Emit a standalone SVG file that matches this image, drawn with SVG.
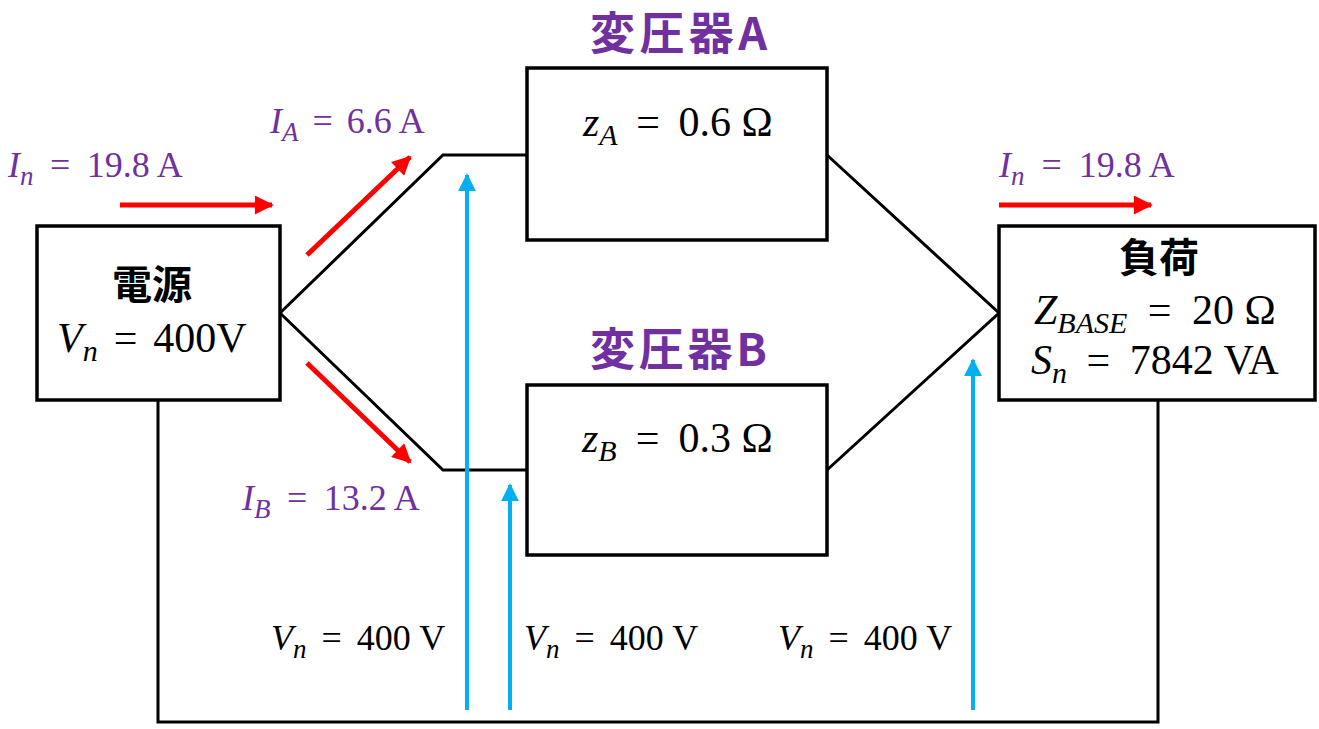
<svg xmlns="http://www.w3.org/2000/svg" width="1319" height="729" viewBox="0 0 1319 729">
<defs>
<marker id="ar" viewBox="0 0 10 10" refX="9" refY="5" markerWidth="4" markerHeight="3.8" orient="auto" markerUnits="strokeWidth"><path d="M0,0 L10,5 L0,10 z" fill="#FF0000"/></marker>
<marker id="ab" viewBox="0 0 10 10" refX="9" refY="5" markerWidth="4.5" markerHeight="4.5" orient="auto" markerUnits="strokeWidth"><path d="M0,0 L10,5 L0,10 z" fill="#00B0F0"/></marker>
</defs>
<style>
.box{fill:#fff;stroke:#000;stroke-width:3.5}
.wire{fill:none;stroke:#000;stroke-width:3}
.red{stroke:#FF0000;stroke-width:5;fill:none}
.blue{stroke:#00B0F0;stroke-width:4;fill:none}
.m{font-family:"Liberation Serif","DejaVu Serif",serif;font-size:36px}
.b{font-size:42px}
.p{fill:#7030A0}
.k{fill:#000}
.i{font-style:italic}
.s{font-size:27px;font-style:italic}
.sb{font-size:30px;font-style:italic}
.t{font-family:"Noto Sans CJK JP","Noto Sans",sans-serif;font-weight:bold;font-size:45px;fill:#7030A0}
.h{font-family:"Noto Sans CJK JP",sans-serif;font-weight:bold;font-size:40px;fill:#000}
</style>
<rect width="1319" height="729" fill="#fff"/>
<g id="connectors">
<path class="wire" d="M280,313 L443,155 L527,155"/>
<path class="wire" d="M280,313 L443,470 L527,470"/>
<path class="wire" d="M827,155 L999,313 L827,470"/>
<path class="wire" d="M158,400 L158,722 L1158,722 L1158,400"/>
<line class="red" x1="120" y1="205" x2="272" y2="205" marker-end="url(#ar)"/>
<line class="red" x1="999" y1="205" x2="1151" y2="205" marker-end="url(#ar)"/>
<line class="red" x1="307" y1="255" x2="410" y2="157" marker-end="url(#ar)"/>
<line class="red" x1="307" y1="363" x2="410" y2="462" marker-end="url(#ar)"/>
<line class="blue" x1="467" y1="710" x2="467" y2="175" marker-end="url(#ab)"/>
<line class="blue" x1="510" y1="710" x2="510" y2="485" marker-end="url(#ab)"/>
<line class="blue" x1="973" y1="710" x2="973" y2="360" marker-end="url(#ab)"/>
</g>
<g id="source">
<rect class="box" x="37" y="226" width="243" height="174"/>
<text class="h" x="152" y="299" text-anchor="middle">電源</text>
<text class="m b k" x="57" y="352"><tspan class="i">V</tspan><tspan class="sb" dy="9">n</tspan><tspan dy="-9" word-spacing="5.5"> = </tspan>400V</text>
</g>
<g id="transA">
<text class="t" x="590" y="50" textLength="177" lengthAdjust="spacing">変圧器A</text>
<rect class="box" x="527" y="68" width="300" height="172"/>
<text class="m b k" x="583" y="136"><tspan class="i">z</tspan><tspan class="sb" dy="9">A</tspan><tspan dy="-9" word-spacing="8"> = </tspan>0.6 Ω</text>
</g>
<g id="transB">
<text class="t" x="590" y="366" textLength="177" lengthAdjust="spacing">変圧器B</text>
<rect class="box" x="527" y="385" width="300" height="170"/>
<text class="m b k" x="582" y="452"><tspan class="i">z</tspan><tspan class="sb" dy="9">B</tspan><tspan dy="-9" word-spacing="8.5"> = </tspan>0.3 Ω</text>
</g>
<g id="load">
<rect class="box" x="999" y="226" width="316" height="174"/>
<text class="h" x="1159" y="272" text-anchor="middle">負荷</text>
<text class="m b k" x="1034" y="324"><tspan class="i">Z</tspan><tspan class="sb" dy="9">BASE</tspan><tspan dy="-9" word-spacing="10"> = </tspan>20 Ω</text>
<text class="m b k" x="1031" y="374"><tspan class="i">S</tspan><tspan class="sb" dy="9">n</tspan><tspan dy="-9" word-spacing="9"> = </tspan>7842 VA</text>
</g>
<g id="labels">
<text class="m p" x="8" y="177"><tspan class="i">I</tspan><tspan class="s" dy="8">n</tspan><tspan dy="-8" word-spacing="7.5"> = </tspan>19.8 A</text>
<text class="m p" x="270" y="133"><tspan class="i">I</tspan><tspan class="s" dy="8">A</tspan><tspan dy="-8" word-spacing="5"> = </tspan>6.6 A</text>
<text class="m p" x="242" y="510"><tspan class="i">I</tspan><tspan class="s" dy="8">B</tspan><tspan dy="-8" word-spacing="7.5"> = </tspan>13.2 A</text>
<text class="m p" x="999" y="177"><tspan class="i">I</tspan><tspan class="s" dy="8">n</tspan><tspan dy="-8" word-spacing="8"> = </tspan>19.8 A</text>
<text class="m k" x="271" y="650"><tspan class="i">V</tspan><tspan class="s" dy="8">n</tspan><tspan dy="-8" word-spacing="6"> = </tspan>400 V</text>
<text class="m k" x="524" y="650"><tspan class="i">V</tspan><tspan class="s" dy="8">n</tspan><tspan dy="-8" word-spacing="6"> = </tspan>400 V</text>
<text class="m k" x="778" y="650"><tspan class="i">V</tspan><tspan class="s" dy="8">n</tspan><tspan dy="-8" word-spacing="6"> = </tspan>400 V</text>
</g>
</svg>
